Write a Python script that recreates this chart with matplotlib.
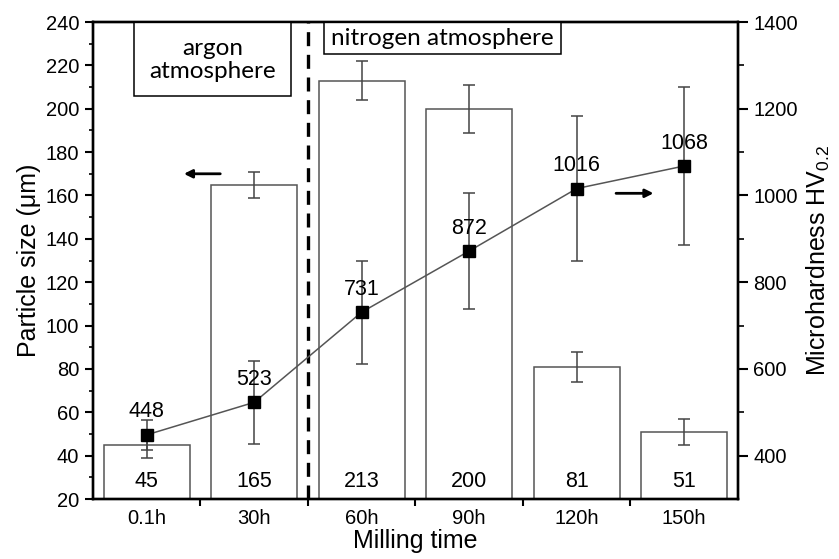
import numpy as np
import matplotlib
matplotlib.use("Agg")
import matplotlib.pyplot as plt
from matplotlib.patches import Rectangle
from matplotlib.ticker import MultipleLocator, FixedLocator

plt.rcParams['font.family'] = ['Liberation Sans', 'DejaVu Sans']
plt.rcParams['mathtext.default'] = 'regular'

times = ['0.1h', '30h', '60h', '90h', '120h', '150h']
size = [45, 165, 213, 200, 81, 51]          # particle size, um
size_err = [6, 6, 9, 11, 7, 6]
hard = [448, 523, 731, 872, 1016, 1068]      # microhardness HV0.2
hard_err = [35, 95, 119, 133, 168, 182]

x = np.arange(len(times))

fig = plt.figure(figsize=(8.39, 5.59), dpi=100)
ax = fig.add_axes([0.1108, 0.1073, 0.7688, 0.8533])
ax2 = ax.twinx()

# bars (left axis)
ax.bar(x, np.array(size) - 20, bottom=20, width=0.8, color='white',
       edgecolor='#555555', linewidth=1.1, zorder=2)
ax.errorbar(x, size, yerr=size_err, fmt='none', ecolor='#444444',
            elinewidth=1.1, capsize=4, capthick=1.1, zorder=3)
for xi, v in zip(x, size):
    ax.text(xi, 28.3, str(v), ha='center', va='center', fontsize=15.5)

ax.set_xlim(-0.5, 5.5)
ax.set_ylim(20, 240)
ax.yaxis.set_major_locator(MultipleLocator(20))
ax.yaxis.set_minor_locator(MultipleLocator(10))
ax.set_xticks(x)
ax.set_xticklabels(times)
ax.xaxis.set_minor_locator(FixedLocator(x[:-1] + 0.5))
ax.tick_params(axis='x', which='major', length=0, labelsize=14.5, pad=7)
ax.tick_params(axis='x', which='minor', length=5, width=1.5, direction='out')
ax.tick_params(axis='y', which='major', length=6, width=1.5, labelsize=14.5, pad=4)
ax.tick_params(axis='y', which='minor', length=3, width=1.2)
ax.set_xlabel('Milling time', fontsize=18, labelpad=1)
ax.set_ylabel('Particle size (\u03bcm)', fontsize=18, labelpad=3)

# hardness line (right axis)
ax2.errorbar(x, hard, yerr=hard_err, fmt='none', ecolor='#444444',
             elinewidth=1.1, capsize=4, capthick=1.1, zorder=3)
ax2.plot(x, hard, color='#555555', linewidth=1.1, marker='s',
         markersize=8.5, markerfacecolor='black', markeredgecolor='black', zorder=4)
for xi, v in zip(x, hard):
    ax2.annotate(str(v), (xi, v), xytext=(0, 16.5), textcoords='offset points',
                 ha='center', va='center', fontsize=15.5, zorder=5)
ax2.set_ylim(300, 1400)
ax2.yaxis.set_major_locator(FixedLocator([400, 600, 800, 1000, 1200, 1400]))
ax2.yaxis.set_minor_locator(FixedLocator([500, 700, 900, 1100, 1300]))
ax2.tick_params(axis='y', which='major', length=7, width=1.5, labelsize=14.5, pad=4)
ax2.tick_params(axis='y', which='minor', length=4, width=1.2)
ax2.set_ylabel('Microhardness HV$_{0.2}$', fontsize=18, labelpad=5)

for a in (ax, ax2):
    for s in a.spines.values():
        s.set_linewidth(1.7)

# boundary between the two atmospheres
ax.axvline(1.5, color='black', linewidth=2.4, dashes=(4.2, 2.6), zorder=4)

box_font = ['Lato', 'DejaVu Sans']
ax.add_patch(Rectangle((-0.12, 206), 1.46, 34, facecolor='white',
                       edgecolor='black', linewidth=1.1, zorder=5))
ax.text(0.61, 222.5, 'argon\natmosphere', ha='center', va='center',
        fontsize=17.5, family=box_font, linespacing=1.15, zorder=6)
ax.add_patch(Rectangle((1.65, 225.3), 2.2, 14.7, facecolor='white',
                       edgecolor='black', linewidth=1.1, zorder=5))
ax.text(2.75, 232.6, 'nitrogen atmosphere', ha='center', va='center',
        fontsize=17.5, family=box_font, zorder=6)

# arrows pointing to each axis
arrow = dict(arrowstyle='-|>', color='black', linewidth=2, mutation_scale=12)
ax.annotate('', xy=(0.32, 170), xytext=(0.71, 170), arrowprops=arrow, zorder=6)
ax2.annotate('', xy=(4.74, 1005), xytext=(4.34, 1005), arrowprops=arrow, zorder=6)

fig.savefig('out.png', dpi=100)
